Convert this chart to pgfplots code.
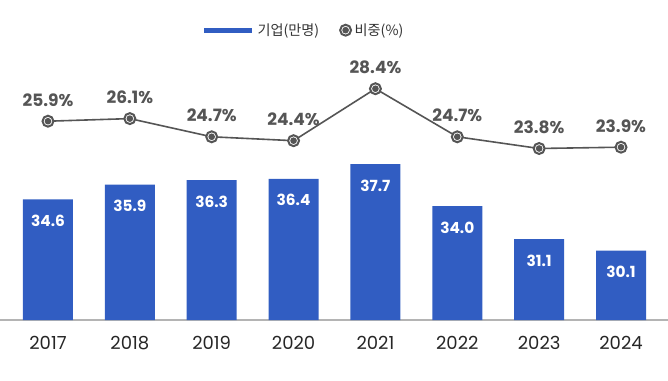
\documentclass[border=0pt]{standalone}
\usepackage{pgfplots}
\pgfplotsset{compat=1.18}
\usepackage{fontspec}
\setmainfont{Poppins}
\newfontfamily\kr{Noto Sans CJK KR}
\definecolor{barblue}{RGB}{49,93,194}
\definecolor{lgray}{RGB}{85,85,85}
\definecolor{axgray}{RGB}{180,180,180}
\pgfdeclareplotmark{ringdot}{%
  \pgfsetlinewidth{1.5pt}%
  \pgfsetfillcolor{white}%
  \pgfpathcircle{\pgfpointorigin}{4.1pt}%
  \pgfusepath{fill,stroke}%
  \pgfsetfillcolor{lgray}%
  \pgfpathcircle{\pgfpointorigin}{2.5pt}%
  \pgfusepath{fill}}
\begin{document}
\begin{tikzpicture}
\path[use as bounding box] (0pt,0pt) rectangle (501pt,285pt);
\begin{axis}[
  at={(0pt,45pt)}, anchor=south west, scale only axis,
  width=501pt, height=210pt,
  xmin=-0.586, xmax=7.574, ymin=24.0, ymax=48.6,
  axis x line=bottom, hide y axis,
  x axis line style={draw=axgray, line width=2.2pt, -},
  xtick={0,...,7}, xticklabels={2017,2018,2019,2020,2021,2022,2023,2024},
  major tick length=0pt,
  xticklabel style={anchor=center, yshift=-17pt, font=\fontsize{13.5pt}{14pt}\selectfont, text=black!85},
  ybar, bar width=37.5pt,
  nodes near coords,
  nodes near coords style={anchor=center, yshift=-16pt, text=white, font=\bfseries\fontsize{11.5pt}{12pt}\selectfont, /pgf/number format/.cd, fixed, fixed zerofill, precision=1, assume math mode=true},
  clip=false,
]
\addplot[fill=barblue, draw=none] coordinates {(0,34.6) (1,35.9) (2,36.3) (3,36.4) (4,37.7) (5,34.0) (6,31.1) (7,30.1)};
\end{axis}
\begin{axis}[
  at={(0pt,45pt)}, anchor=south west, scale only axis,
  width=501pt, height=210pt,
  xmin=-0.586, xmax=7.574, ymin=10.6, ymax=32.15,
  hide axis, clip=false,
  legend columns=2,
  legend style={at={(rel axis cs:0.455,1.035)}, anchor=center, draw=none, fill=none, font=\kr\fontsize{10.6pt}{11pt}\selectfont, text=black!80, /tikz/every even column/.append style={column sep=13pt}, nodes={inner xsep=2pt}},
  nodes near coords,
  nodes near coords style={anchor=center, yshift=16pt, text=lgray, font=\bfseries\fontsize{12.75pt}{13pt}\selectfont},
]
\addlegendimage{legend image code/.code={\draw[barblue, line width=3.75pt] (0pt,0pt)--(36pt,0pt);}}
\addlegendentry{기업(만명)}
\addplot[lgray, line width=1.2pt, mark=ringdot, mark options={draw=lgray},
  nodes near coords={\pgfmathprintnumber[fixed,fixed zerofill,precision=1,assume math mode=true]{\pgfplotspointmeta}\%},
  legend image code/.code={\pgfuseplotmark{ringdot}}]
  coordinates {(0,25.9) (1,26.1) (2,24.7) (3,24.4) (4,28.4) (5,24.7) (6,23.8) (7,23.9)};
\addlegendentry{비중(\%)}
\end{axis}
\end{tikzpicture}
\end{document}
